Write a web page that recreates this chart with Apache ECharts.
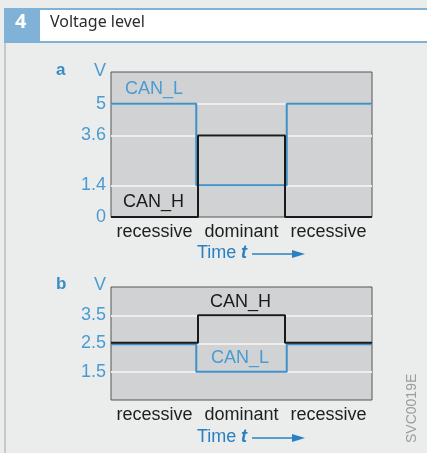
<!DOCTYPE html>
<html>
<head>
<meta charset="utf-8">
<script src="https://cdn.jsdelivr.net/npm/echarts@6/dist/echarts.min.js"></script>
<style>
  html, body { margin: 0; padding: 0; background: #ebeded; }
  #main { width: 427px; height: 453px; }
</style>
</head>
<body>
<div id="main"></div>
<script>
  // phases along the time axis
  const phaseLabels = ['recessive', 'dominant', 'recessive'];
  const edgesH = [0, 1, 2, 3];
  const edgesL = [0, 0.98, 2.02, 3];

  // a: levels per phase
  const aCanH = [0, 3.6, 0];
  const aCanL = [5, 1.4, 5];
  const aTicks = [0, 1.4, 3.6, 5];

  // b: levels per phase
  const bCanH = [2.53, 3.5, 2.53];
  const bCanL = [2.47, 1.5, 2.47];
  const bTicks = [1.5, 2.5, 3.5];

  const BLUE = '#3f91c8';
  const LABEL_BLUE = '#4a9bd1';
  const FONT = 'Liberation Sans, Arial, sans-serif';

  // step line data: value held until next edge
  function steps(edges, levels) {
    const d = [];
    for (let i = 0; i < levels.length; i++) d.push([edges[i], levels[i]]);
    d.push([edges[edges.length - 1], levels[levels.length - 1]]);
    return d;
  }

  function lineSeries(x, y, data, color) {
    return {
      type: 'line', xAxisIndex: x, yAxisIndex: y, step: 'end', data: data,
      symbol: 'none', clip: false, z: 5,
      lineStyle: { color: color, width: 2 }
    };
  }

  function gridLines(x, y, ticks) {
    return {
      type: 'line', xAxisIndex: x, yAxisIndex: y, data: [], z: 1, silent: true,
      markLine: {
        silent: true, symbol: 'none', label: { show: false },
        lineStyle: { color: '#eeeeee', width: 2, type: 'solid' },
        data: ticks.filter(v => v > 0).map(v => ({ yAxis: v }))
      }
    };
  }

  function timeAxis(grid) {
    return { type: 'value', gridIndex: grid, min: 0, max: 3, show: false };
  }
  function phaseAxis(grid) {
    return {
      type: 'category', gridIndex: grid, position: 'bottom', data: phaseLabels,
      axisLine: { show: false }, axisTick: { show: false }, splitLine: { show: false },
      axisLabel: { interval: 0, hideOverlap: false, color: '#1e1e1e', fontSize: 18, fontFamily: FONT, margin: 6 }
    };
  }
  function voltAxis(grid, min, max, ticks) {
    return {
      type: 'value', gridIndex: grid, min: min, max: max,
      axisLine: { show: false }, axisTick: { show: false }, splitLine: { show: false },
      axisLabel: { customValues: ticks, color: LABEL_BLUE, fontSize: 18, fontFamily: FONT, margin: 5 }
    };
  }

  function timeLabel(y) {
    return [
      { type: 'text', left: 197, top: y - 10,
        style: { text: 'Time ', fill: '#2a80c0', fontSize: 18, fontFamily: FONT } },
      { type: 'text', left: 241, top: y - 10,
        style: { text: 't', fill: '#2a80c0', fontSize: 18, fontStyle: 'italic', fontWeight: 'bold', fontFamily: FONT } },
      { type: 'line', shape: { x1: 252, y1: y, x2: 295, y2: y },
        style: { stroke: '#2a80c0', lineWidth: 1.5 } },
      { type: 'polygon', shape: { points: [[292, y - 4], [305, y], [292, y + 4]] },
        style: { fill: '#2a80c0' } }
    ];
  }

  const chart = echarts.init(document.getElementById('main'), null, { renderer: 'canvas' });
  chart.setOption({
    backgroundColor: '#ebeded',
    animation: false,
    grid: [
      { left: 111, top: 72, width: 261, height: 145, show: true,
        backgroundColor: '#d1d2d4', borderColor: '#555', borderWidth: 1 },
      { left: 111, top: 287, width: 261, height: 113, show: true,
        backgroundColor: '#d1d2d4', borderColor: '#555', borderWidth: 1 }
    ],
    xAxis: [timeAxis(0), phaseAxis(0), timeAxis(1), phaseAxis(1)],
    yAxis: [voltAxis(0, 0, 6.4, aTicks), voltAxis(1, 0.5, 4.5, bTicks)],
    series: [
      gridLines(0, 0, aTicks),
      gridLines(2, 1, bTicks),
      lineSeries(0, 0, steps(edgesL, aCanL), BLUE),
      lineSeries(0, 0, steps(edgesH, aCanH), '#1a1a1a'),
      lineSeries(2, 1, steps(edgesL, bCanL), BLUE),
      lineSeries(2, 1, steps(edgesH, bCanH), '#1a1a1a')
    ],
    graphic: [
      // header
      { type: 'rect', shape: { x: 4, y: 8, width: 423, height: 35 }, style: { fill: '#7fb2d6' } },
      { type: 'rect', shape: { x: 40, y: 10, width: 387, height: 31 }, style: { fill: '#ffffff' } },
      { type: 'text', left: 15, top: 12,
        style: { text: '4', fill: '#ffffff', fontSize: 20, fontWeight: 'bold', fontFamily: 'Noto Sans, sans-serif' } },
      { type: 'text', left: 50, top: 14,
        style: { text: 'Voltage level', fill: '#2b2b2b', fontSize: 16, fontFamily: 'Noto Sans, sans-serif' } },
      { type: 'rect', shape: { x: 4, y: 43, width: 2, height: 410 }, style: { fill: '#c8c8c8' } },
      // panel letters and units
      { type: 'text', left: 56, top: 62,
        style: { text: 'a', fill: '#3a8cc4', fontSize: 17, fontWeight: 'bold', fontFamily: FONT } },
      { type: 'text', left: 94, top: 62,
        style: { text: 'V', fill: LABEL_BLUE, fontSize: 18, fontFamily: FONT } },
      { type: 'text', left: 56, top: 276,
        style: { text: 'b', fill: '#3a8cc4', fontSize: 17, fontWeight: 'bold', fontFamily: FONT } },
      { type: 'text', left: 94, top: 276,
        style: { text: 'V', fill: LABEL_BLUE, fontSize: 18, fontFamily: FONT } },
      // signal names
      { type: 'text', left: 125, top: 80, z: 10,
        style: { text: 'CAN_L', fill: LABEL_BLUE, fontSize: 18, fontFamily: FONT } },
      { type: 'text', left: 123, top: 193, z: 10,
        style: { text: 'CAN_H', fill: '#1a1a1a', fontSize: 18, fontFamily: FONT } },
      { type: 'text', left: 210, top: 293, z: 10,
        style: { text: 'CAN_H', fill: '#1a1a1a', fontSize: 18, fontFamily: FONT } },
      { type: 'text', left: 211, top: 349, z: 10,
        style: { text: 'CAN_L', fill: LABEL_BLUE, fontSize: 18, fontFamily: FONT } },
      // time arrows
      ...timeLabel(254),
      ...timeLabel(438),
      // figure code
      { type: 'text', x: 405, y: 443, rotation: Math.PI / 2,
        style: { text: 'SVC0019E', fill: '#9c9c9c', fontSize: 14, fontFamily: FONT } }
    ]
  });
</script>
</body>
</html>
